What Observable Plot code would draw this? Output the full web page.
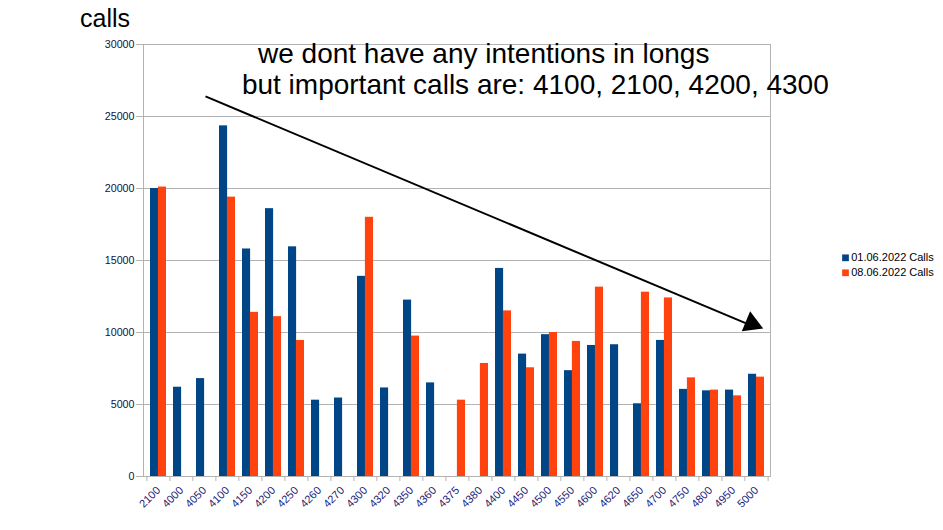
<!DOCTYPE html>
<html lang="en">
<head>
<meta charset="UTF-8">
<title>calls</title>
<script src="https://cdn.jsdelivr.net/npm/d3@7"></script>
<script src="https://cdn.jsdelivr.net/npm/@observablehq/plot@0.6"></script>
<style>
  body { margin: 0; background: #fff; }
</style>
</head>
<body>
<div id="chart"></div>
<script>
const categories = ["2100", "4000", "4050", "4100", "4150", "4200", "4250", "4260", "4270", "4300", "4320", "4350", "4360", "4375", "4380", "4400", "4450", "4500", "4550", "4600", "4620", "4650", "4700", "4750", "4800", "4950", "5000"];
const calls0106 = [20000, 6200, 6800, 24350, 15800, 18600, 15950, 5300, 5450, 13900, 6150, 12250, 6500, null, null, 14450, 8500, 9850, 7350, 9100, 9150, 5050, 9450, 6050, 5950, 6000, 7100];
const calls0806 = [20100, null, null, 19400, 11400, 11100, 9450, null, null, 18000, null, 9750, null, 5300, 7850, 11500, 7550, 10000, 9380, 13150, null, 12800, 12400, 6850, 6000, 5600, 6900];
const series = ["01.06.2022 Calls", "08.06.2022 Calls"];
const yTicks = [0, 5000, 10000, 15000, 20000, 25000, 30000];
const title = "calls";
const notes = ["we dont have any intentions in longs", "but important calls are: 4100, 2100, 4200, 4300"];
// arrow drawn over the chart, in data units
const arrow = [{from: "4050", to: "5000", y1: 26400, y2: 10300}];

const colors = ["#004586", "#ff420e"];
const grey = "#b3b3b3";
const font = "'Liberation Sans', Arial, sans-serif";

const width = 943, height = 530;
const marginLeft = 143, marginRight = 173, marginTop = 44, marginBottom = 54;
const pad = 0.32;
const step = (width - marginLeft - marginRight) / categories.length;
const half = step * (1 - pad) / 2;

const rows = (values, s) => categories
  .map((c, i) => ({cat: c, value: values[i], series: s}))
  .filter(d => d.value != null);

const chart = Plot.plot({
  width, height, marginLeft, marginRight, marginTop, marginBottom,
  style: {fontFamily: font, background: "#fff", overflow: "visible"},
  x: {domain: categories, paddingInner: pad, paddingOuter: pad / 2},
  y: {domain: [0, 30000]},
  marks: [
    Plot.gridY(yTicks, {stroke: grey, strokeOpacity: 1}),
    Plot.frame({anchor: "left", stroke: grey}),
    Plot.frame({anchor: "right", stroke: grey}),
    Plot.axisY(yTicks, {tickSize: 7, tickPadding: 2, tickFormat: d => String(d), label: null, stroke: grey, fill: "#111144", fontSize: 10.7}),
    // small ticks sit between the categories
    Plot.axisX({tickSize: 5, tickFormat: () => "", label: null, dx: -step / 2, stroke: grey}),
    Plot.axisX([categories.at(-1)], {tickSize: 5, tickFormat: () => "", label: null, dx: step / 2, stroke: grey}),
    Plot.axisX({tickSize: 0, tickPadding: 12, tickRotate: -45, label: null, fill: "#222277", fontSize: 11}),
    Plot.barY(rows(calls0106, series[0]), {x: "cat", y: "value", fill: colors[0], insetRight: half}),
    Plot.barY(rows(calls0806, series[1]), {x: "cat", y: "value", fill: colors[1], insetLeft: half}),
    Plot.link(arrow, {x1: "from", y1: "y1", x2: "to", y2: "y2", stroke: "black", strokeWidth: 2, dx: 1}),
    Plot.dot(arrow, {x: "to", y: "y2", symbol: "triangle", r: 8, fill: "black", rotate: 112.6, dx: -4.8, dy: -4.5}),
    Plot.text([title], {frameAnchor: "top-left", textAnchor: "start", lineAnchor: "top", dx: -63.5, dy: -35.6, fontSize: 25, fill: "black"}),
    Plot.text([notes[0]], {frameAnchor: "top-left", textAnchor: "start", lineAnchor: "top", dx: 114.5, dy: -1.3, fontSize: 28, fill: "black"}),
    Plot.text([notes[1]], {frameAnchor: "top-left", textAnchor: "start", lineAnchor: "top", dx: 98.4, dy: 29.3, fontSize: 28, fill: "black"}),
    series.map((s, i) => [
      Plot.dot([s], {frameAnchor: "right", symbol: "square", r: 3.8, fill: colors[i], dx: 75, dy: -2.7 + 15 * i}),
      Plot.text([s], {frameAnchor: "right", textAnchor: "start", dx: 80.7, dy: -2.7 + 15 * i, fontSize: 11, fill: "black"})
    ])
  ]
});

document.getElementById("chart").appendChild(chart);
</script>
</body>
</html>
